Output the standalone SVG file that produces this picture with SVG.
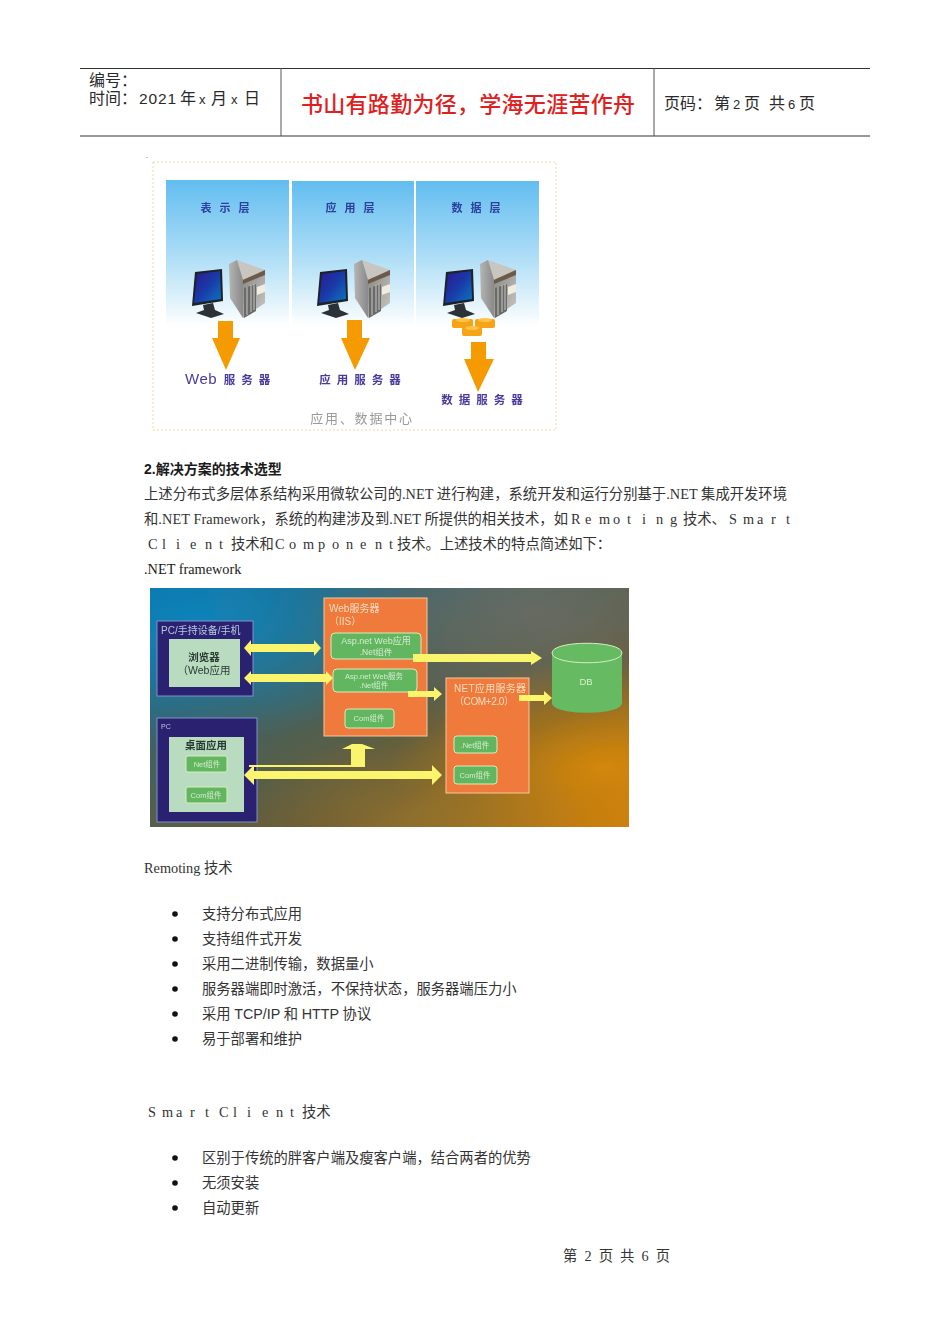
<svg xmlns="http://www.w3.org/2000/svg" xmlns:xlink="http://www.w3.org/1999/xlink" width="950" height="1344" viewBox="0 0 950 1344">
<style>
text{font-family:"Liberation Serif","Noto Sans CJK SC",serif;font-size:14.3px;fill:#333}
.s{font-family:"Liberation Sans","Noto Sans CJK SC",sans-serif}
.h{font-family:"Liberation Sans","Noto Sans CJK SC",sans-serif;font-size:16px;fill:#2a2a2a}
.n{font-family:"Liberation Sans",sans-serif;font-size:13px;fill:#2a2a2a}
.cap{font-family:"Liberation Sans","Noto Sans CJK SC",sans-serif;font-size:11px;font-weight:700;fill:#2b3f9c;letter-spacing:8px;text-anchor:middle}
.srv{font-family:"Liberation Sans","Noto Sans CJK SC",sans-serif;font-size:11.5px;font-weight:700;fill:#4a3a9c;letter-spacing:6px;text-anchor:middle}
.w{font-family:"Liberation Sans","Noto Sans CJK SC",sans-serif;fill:#f6dcc0;font-size:10px}
.g{font-family:"Liberation Sans","Noto Sans CJK SC",sans-serif;fill:#d4ecd0;font-size:7.5px;text-anchor:middle}
.d{font-family:"Liberation Sans","Noto Sans CJK SC",sans-serif;fill:#2a3a30;font-size:10.5px;text-anchor:middle}
.box{fill:#2b2170;stroke:#7f93c8;stroke-width:1}
.inner{fill:#b9dcc0}
.or{fill:#ef7a3a;stroke:#f2c9a0;stroke-width:1}
.gr{fill:#62b660;stroke:#d8ecc0;stroke-width:1}
.y{fill:#fbf56e}
.oa{fill:#f59a06}
.coin{fill:#f7a312}
.panel{fill:url(#sky)}
.b{fill:#111}
</style>
<defs>
<linearGradient id="sky" x1="0" y1="0" x2="0" y2="1">
<stop offset="0" stop-color="#62bdf0"/><stop offset=".5" stop-color="#aadcf6"/><stop offset=".85" stop-color="#e4f4fb"/><stop offset="1" stop-color="#fff"/>
</linearGradient>
<linearGradient id="scr" x1="0" y1="0" x2="1" y2="1"><stop offset="0" stop-color="#2a1a90"/><stop offset=".5" stop-color="#1a3aa8"/><stop offset="1" stop-color="#0a78c0"/></linearGradient>
<linearGradient id="caseL" x1="0" y1="0" x2="1" y2="0"><stop offset="0" stop-color="#b5b5b2"/><stop offset="1" stop-color="#77767a"/></linearGradient>
<linearGradient id="caseR" x1="0" y1="0" x2="1" y2="1"><stop offset="0" stop-color="#8a8782"/><stop offset="1" stop-color="#c9c9c6"/></linearGradient>
<linearGradient id="bg0" x1="0" y1="0" x2="1" y2="1"><stop offset="0" stop-color="#12689a"/><stop offset=".4" stop-color="#4a6058"/><stop offset=".7" stop-color="#6b5a30"/><stop offset="1" stop-color="#c87a10"/></linearGradient>
<radialGradient id="bg1" cx=".1" cy=".15" r=".5"><stop offset="0" stop-color="#0a8cc8" stop-opacity=".8"/><stop offset="1" stop-color="#0a8cc8" stop-opacity="0"/></radialGradient>
<radialGradient id="bg2" cx=".95" cy=".75" r=".45"><stop offset="0" stop-color="#d98a08" stop-opacity=".9"/><stop offset="1" stop-color="#d98a08" stop-opacity="0"/></radialGradient>
<radialGradient id="bg3" cx=".8" cy=".1" r=".5"><stop offset="0" stop-color="#70706a" stop-opacity=".7"/><stop offset="1" stop-color="#70706a" stop-opacity="0"/></radialGradient>
<radialGradient id="bg4" cx=".55" cy=".95" r=".35"><stop offset="0" stop-color="#9a7a30" stop-opacity=".6"/><stop offset="1" stop-color="#9a7a30" stop-opacity="0"/></radialGradient>
<filter id="soft" x="-5%" y="-5%" width="110%" height="110%"><feGaussianBlur stdDeviation=".45"/></filter>
<g id="pc">
<path d="M195 272l27-3 1 32-31 5z" fill="#1c2026"/>
<path d="M197 274l23-3 1 28-27 4z" fill="url(#scr)"/>
<path d="M203 305l10-2 2 7 9 4-13 4-15-5 8-3z" fill="#2c3036"/>
<path d="M229 264l8-4 12 17-6 41-13-20z" fill="url(#caseL)"/>
<path d="M237 260l28 10-22 10z" fill="#c8c6c0"/>
<path d="M243 280l22-10v33l-22 15z" fill="url(#caseR)"/>
<path d="M243 280l22-10v5l-22 9z" fill="#6e5a48"/>
<path d="M244 288l12-4v27l-12 7z" fill="#6a6a68"/>
<path d="M247 287v28M251 285v27M254 284v26" stroke="#e0e0dc" stroke-width=".8"/>
<path d="M257 287l8-3v8l-8 3z" fill="#f0ece0"/>
</g>
</defs>
<rect width="950" height="1344" fill="#fff"/>

<g id="header">
<path d="M80 68.500H870" stroke="#333" stroke-width="1"/>
<path d="M80 136H870" stroke="#777" stroke-width="1.500"/>
<path d="M281 68v68M654 68v68" stroke="#555" stroke-width="1"/>
<text class="h" x="89" y="86">编号：</text>
<text class="h" x="89" y="104">时间：</text>
<text class="h" x="139" y="104" style="font-size:15.500px" textLength="37">2021</text>
<text class="h" x="180" y="104">年</text>
<text class="n" x="199" y="104">x</text>
<text class="h" x="211" y="104">月</text>
<text class="n" x="231" y="104">x</text>
<text class="h" x="244" y="104">日</text>
<text x="301" y="112" textLength="334" style="font-family:'Noto Sans CJK SC',sans-serif;font-size:22px;fill:#e02020;font-weight:500">书山有路勤为径，学海无涯苦作舟</text>
<text class="h" x="664" y="109">页码：</text>
<text class="h" x="714" y="109">第</text>
<text class="n" x="733" y="109">2</text>
<text class="h" x="744" y="109">页</text>
<text class="h" x="769" y="109">共</text>
<text class="n" x="788" y="109">6</text>
<text class="h" x="799" y="109">页</text>
</g>

<text x="146" y="158" style="font-size:8px">.</text>

<g id="tiers" filter="url(#soft)">
<rect x="153" y="162" width="403" height="268" fill="#fff" stroke="#efd9a0" stroke-width="1" stroke-dasharray="2 2"/>
<g id="tier-presentation">
<rect class="panel" x="166" y="180" width="123" height="146"/>
<use xlink:href="#pc" href="#pc"/>
<path class="oa" d="M218 321h15v17h7l-14 32-14-32h6z"/>
<text class="cap" x="229" y="212">表示层</text>
<text x="185" y="384" style="font-family:'Liberation Sans',sans-serif;font-size:15px;fill:#4a3a9c;letter-spacing:.5px">Web</text>
<text class="srv" x="250" y="384">服务器</text>
</g>
<g id="tier-application">
<rect class="panel" x="292" y="181" width="122" height="145"/>
<use xlink:href="#pc" href="#pc" x="125"/>
<path class="oa" d="M347 320h15v18h8l-15 32-14-32h6z"/>
<text class="cap" x="354" y="212">应用层</text>
<text class="srv" x="363" y="384">应用服务器</text>
</g>
<g id="tier-data">
<rect class="panel" x="416" y="181" width="123" height="145"/>
<use xlink:href="#pc" href="#pc" x="251"/>
<g id="coins">
<rect class="coin" x="452" y="319" width="21" height="9" rx="2"/>
<rect class="coin" x="475" y="319" width="20" height="9" rx="2"/>
<rect class="coin" x="462" y="327" width="20" height="9" rx="2"/>
<ellipse cx="463" cy="320" rx="7" ry="2" fill="#ffc24a"/>
<ellipse cx="485" cy="320" rx="7" ry="2" fill="#ffc24a"/>
<ellipse cx="472" cy="328" rx="7" ry="2" fill="#ffc24a"/>
</g>
<path class="oa" d="M471 342h15v17h8l-16 33-14-33h7z"/>
<text class="cap" x="480" y="212">数据层</text>
<text class="srv" x="485" y="404">数据服务器</text>
</g>
<text x="362" y="423" text-anchor="middle" style="font-size:13px;fill:#9a9a9a;letter-spacing:1.800px">应用、数据中心</text>
</g>

<text class="s" x="144" y="474" style="font-weight:700;fill:#1a1a1a;font-size:14px">2.解决方案的技术选型</text>
<text x="144" y="499" textLength="643">上述分布式多层体系结构采用微软公司的.NET 进行构建，系统开发和运行分别基于.NET 集成开发环境</text>
<text x="144" y="524" textLength="424">和.NET Framework，系统的构建涉及到.NET 所提供的相关技术，如</text>
<text y="524" x="571 585 599 613 627 642 656 670">Remoting</text>
<text x="683" y="524">技术、</text>
<text y="524" x="729 743 757 771 786">Smart</text>
<text y="549" x="148 162 176 190 205 219">Client</text>
<text x="231" y="549">技术和</text>
<text y="549" x="275 289 303 318 332 346 360 375 389">Component</text>
<text x="397" y="549" textLength="214">技术。上述技术的特点简述如下：</text>
<text x="144" y="574" style="fill:#1a1a1a">.NET framework</text>

<g id="architecture" filter="url(#soft)">
<rect x="150" y="588" width="479" height="239" fill="url(#bg0)"/>
<rect x="150" y="588" width="479" height="239" fill="url(#bg1)"/>
<rect x="150" y="588" width="479" height="239" fill="url(#bg3)"/>
<rect x="150" y="588" width="479" height="239" fill="url(#bg2)"/>
<rect x="150" y="588" width="479" height="239" fill="url(#bg4)"/>
<g id="client-web">
<rect class="box" x="157" y="621" width="96" height="75"/>
<rect class="inner" x="169" y="639" width="71" height="48"/>
<text class="w" x="161" y="634" style="fill:#b8c8e0">PC/手持设备/手机</text>
<text class="d" x="204" y="661" style="font-weight:700">浏览器</text>
<text class="d" x="204" y="674">（Web应用</text>
</g>
<g id="client-pc">
<rect class="box" x="157" y="718" width="100" height="104"/>
<rect class="inner" x="169" y="737" width="75" height="75"/>
<text class="w" x="161" y="729" style="font-size:7px;fill:#b8c8e0">PC</text>
<text class="d" x="206" y="749" style="font-weight:700">桌面应用</text>
<rect class="gr" x="186" y="756" width="41" height="16" rx="2" stroke="none"/>
<text class="g" x="207" y="767">Net组件</text>
<rect class="gr" x="186" y="787" width="41" height="16" rx="2" stroke="none"/>
<text class="g" x="206" y="798">Com组件</text>
</g>
<g id="web-server">
<rect class="or" x="324" y="598" width="103" height="138"/>
<text class="w" x="329" y="612">Web服务器</text>
<text class="w" x="329" y="625">（IIS）</text>
<rect class="gr" x="331" y="633" width="90" height="26" rx="4"/>
<text class="g" x="376" y="644" style="font-size:9px">Asp.net  Web应用</text>
<text class="g" x="376" y="655" style="font-size:8.500px">.Net组件</text>
<rect class="gr" x="333" y="669" width="84" height="23" rx="4"/>
<text class="g" x="374" y="679">Asp.net  Web服务</text>
<text class="g" x="374" y="688">.Net组件</text>
<rect class="gr" x="345" y="709" width="49" height="19" rx="3"/>
<text class="g" x="369" y="721">Com组件</text>
</g>
<g id="app-server">
<rect class="or" x="446" y="678" width="83" height="115"/>
<text class="w" x="454" y="692" textLength="72">NET应用服务器</text>
<text class="w" x="454" y="705" textLength="60">（COM+2.0）</text>
<rect class="gr" x="454" y="736" width="43" height="17" rx="3"/>
<text class="g" x="475" y="748">.Net组件</text>
<rect class="gr" x="454" y="766" width="43" height="18" rx="3"/>
<text class="g" x="475" y="778">Com组件</text>
</g>
<g id="db">
<path d="M552 653c0-13 70-13 70 0v50c0 13-70 13-70 0z" fill="#66bb62"/>
<path d="M552 653c0 13 70 13 70 0" fill="none" stroke="#d6ecc4" stroke-width="1"/>
<path d="M552 653c0-13 70-13 70 0" fill="none" stroke="#d6ecc4" stroke-width="1"/>
<text x="586" y="685" text-anchor="middle" style="font-family:'Liberation Sans',sans-serif;font-size:9.500px;fill:#d8f0d0">DB</text>
</g>
<g id="connectors">
<path class="y" d="M244 648l7-8v4h63v-4l7 8-7 8v-4h-63v4z"/>
<path class="y" d="M244 678l7-7v3h75v-3l7 7-7 7v-3h-75v3z"/>
<path class="y" d="M413 654h118v-3l11 7-11 7v-3H413z"/>
<path class="y" d="M408 691h26v-4l8 7-8 7v-4h-26z"/>
<path class="y" d="M519 695h25v-4l8 7-8 7v-4h-25z"/>
<path class="y" d="M244 775l10-10v6h178v-6l10 10-10 10v-6H254v6z"/>
<path class="y" d="M249 765h102v-16h-9l10-5h10l13 5h-10v18H249z"/>
</g>
</g>

<text x="144" y="873">Remoting 技术</text>
<g id="list-remoting">
<circle class="b" cx="175" cy="914" r="2.800"/><text x="202" y="919">支持分布式应用</text>
<circle class="b" cx="175" cy="939" r="2.800"/><text x="202" y="944">支持组件式开发</text>
<circle class="b" cx="175" cy="964" r="2.800"/><text x="202" y="969">采用二进制传输，数据量小</text>
<circle class="b" cx="175" cy="989" r="2.800"/><text x="202" y="994">服务器端即时激活，不保持状态，服务器端压力小</text>
<circle class="b" cx="175" cy="1014" r="2.800"/><text x="202" y="1019">采用 <tspan class="s">TCP/IP</tspan> 和 <tspan class="s">HTTP</tspan> 协议</text>
<circle class="b" cx="175" cy="1039" r="2.800"/><text x="202" y="1044">易于部署和维护</text>
</g>
<text y="1117" x="148 162 176 190 205 219 233 247 262 276 290">SmartClient</text>
<text x="302" y="1117">技术</text>
<g id="list-smart">
<circle class="b" cx="175" cy="1158" r="2.800"/><text x="202" y="1163">区别于传统的胖客户端及瘦客户端，结合两者的优势</text>
<circle class="b" cx="175" cy="1183" r="2.800"/><text x="202" y="1188">无须安装</text>
<circle class="b" cx="175" cy="1208" r="2.800"/><text x="202" y="1213">自动更新</text>
</g>
<text x="563" y="1261" textLength="107">第 2 页 共 6 页</text>
</svg>
